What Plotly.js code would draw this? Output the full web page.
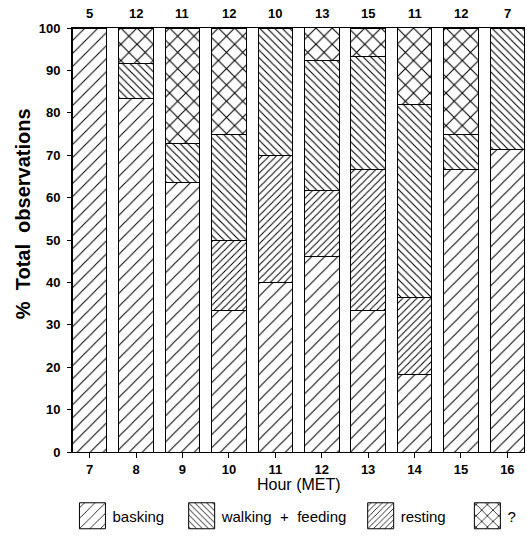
<!DOCTYPE html>
<html>
<head>
<meta charset="utf-8">
<script src="https://cdn.plot.ly/plotly-3.0.1.min.js"></script>
<style>html,body{margin:0;padding:0;background:#fff;}#chart{width:527px;height:539px;}</style>
</head>
<body>
<div id="chart"></div>
<script>
// Data
const hours = [7, 8, 9, 10, 11, 12, 13, 14, 15, 16];
const counts = [5, 12, 11, 12, 10, 13, 15, 11, 12, 7];
const basking = [100, 83.3, 63.6, 33.3, 40, 46.2, 33.3, 18.2, 66.7, 71.4];
const resting = [0, 0, 0, 16.7, 30, 15.4, 33.3, 18.2, 0, 0];
const walking = [0, 8.3, 9.1, 25, 30, 30.8, 26.7, 45.5, 8.3, 28.6];
const unknown = [0, 8.3, 27.3, 25, 0, 7.7, 6.7, 18.2, 25, 0];
const yTicks = [0, 10, 20, 30, 40, 50, 60, 70, 80, 90, 100];
const seriesNames = ['basking', 'walking\u00a0\u00a0+\u00a0\u00a0feeding', 'resting', '?'];
const xTitle = 'Hour (MET)';
const yTitle = '%\u00a0\u00a0Total\u00a0\u00a0observations';

const FONT = 'Liberation Sans, Arial, Helvetica, sans-serif';
const pad = n => '\u00a0'.repeat(n);

function barTrace(name, vals, shape, size, solidity, rank) {
  return {
    type: 'bar', x: hours, y: vals, name: name, width: 0.745,
    legendrank: rank,
    marker: {
      color: '#ffffff',
      line: {color: '#000000', width: 1},
      pattern: {shape: shape, size: size, solidity: solidity, fgcolor: '#000000', bgcolor: '#ffffff', fillmode: 'replace'}
    },
    hoverinfo: 'skip'
  };
}

const traces = [
  barTrace(seriesNames[0] + pad(3), basking, '/', 9.2, 0.11, 1),
  barTrace(seriesNames[2] + pad(4), resting, '/', 5.0, 0.2, 3),
  barTrace(seriesNames[1] + pad(2), walking, '\\', 5.3, 0.21, 2),
  barTrace(seriesNames[3], unknown, 'x', 11.5, 0.18, 4)
];

const annotations = hours.map((h, i) => ({
  x: h, y: 100, xref: 'x', yref: 'y', text: String(counts[i]),
  showarrow: false, yanchor: 'bottom', yshift: 5,
  font: {family: FONT, size: 13, color: '#000', weight: 'bold'}
}));
annotations.push({
  text: yTitle, xref: 'paper', yref: 'paper', x: -0.108, y: 0.561,
  xanchor: 'center', yanchor: 'middle', textangle: -90, showarrow: false,
  font: {family: FONT, size: 20, color: '#000', weight: 'bold'}
});
annotations.push({
  text: xTitle, xref: 'paper', yref: 'paper', x: 0.5, y: -0.0775,
  xanchor: 'center', yanchor: 'middle', showarrow: false,
  font: {family: FONT, size: 16, color: '#000'}
});

const layout = {
  width: 527, height: 539,
  margin: {l: 72, r: 2, t: 28, b: 87},
  paper_bgcolor: '#fff', plot_bgcolor: '#fff',
  barmode: 'stack', bargap: 0,
  font: {family: FONT, color: '#000'},
  showlegend: true,
  legend: {
    orientation: 'h', x: 0.001, xanchor: 'left', y: -0.151, yanchor: 'middle',
    traceorder: 'normal', font: {family: FONT, size: 15, color: '#000'},
    itemwidth: 30, bgcolor: 'rgba(0,0,0,0)'
  },
  xaxis: {
    range: [6.62, 16.38], tickmode: 'array', tickvals: hours, ticktext: hours.map(String),
    showline: true, linecolor: '#000', linewidth: 1, mirror: true,
    ticks: 'outside', ticklen: 5, tickcolor: '#000', showgrid: false, zeroline: false,
    tickfont: {family: FONT, size: 13, weight: 'bold'}
  },
  yaxis: {
    range: [0, 100], tickmode: 'array', tickvals: yTicks, ticktext: yTicks.map(String),
    showline: true, linecolor: '#000', linewidth: 1,
    ticks: 'outside', ticklen: 4, tickcolor: '#000', showgrid: false, zeroline: false,
    ticklabelstandoff: 4,
    tickfont: {family: FONT, size: 13, weight: 'bold'}
  },
  annotations: annotations
};

Plotly.newPlot('chart', traces, layout, {staticPlot: true, displayModeBar: false}).then(() => {
  document.querySelectorAll('.legend .legendpoints path').forEach(p => {
    p.setAttribute('d', 'M13,13H-13V-13H13Z');
  });
});
</script>
</body>
</html>
